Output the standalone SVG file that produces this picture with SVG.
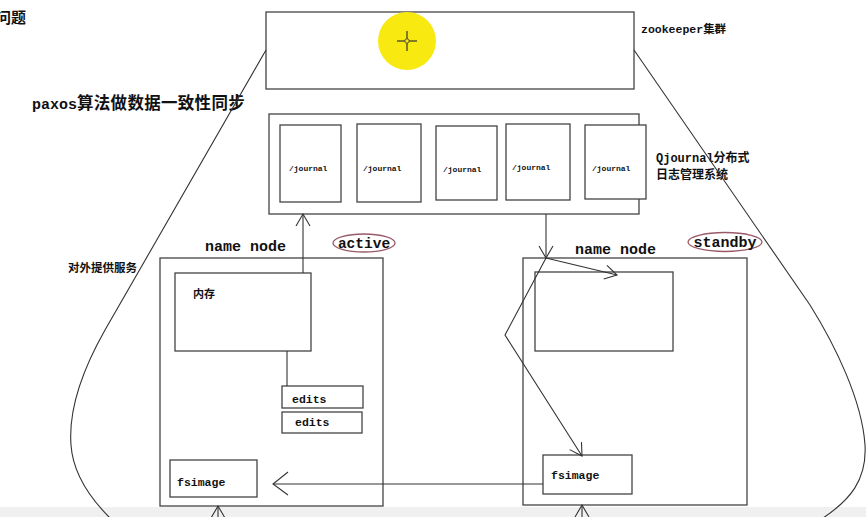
<svg xmlns="http://www.w3.org/2000/svg" width="866" height="517" viewBox="0 0 866 517">
<defs>
<style>
.box{fill:#fff;stroke:#444;stroke-width:1.3}
.frame{fill:none;stroke:#444;stroke-width:1.3}
.ln{fill:none;stroke:#333;stroke-width:1.1}
.cn{font-family:"Noto Sans CJK SC","Liberation Sans",sans-serif;font-weight:bold;fill:#111}
.mo{font-family:"Liberation Mono","Noto Sans CJK SC",monospace;font-weight:bold;fill:#111}
.tag{fill:#fff;stroke:#9a5a68;stroke-width:1.3}
</style>
<marker id="ah" markerUnits="userSpaceOnUse" markerWidth="20" markerHeight="20" viewBox="-14 -10 16 20" refX="0" refY="0" orient="auto">
<path d="M-12,-7 L0,0 L-12,7" fill="none" stroke="#333" stroke-width="1.1"/>
</marker>
<marker id="ahb" markerUnits="userSpaceOnUse" markerWidth="24" markerHeight="30" viewBox="-20 -15 22 30" refX="0" refY="0" orient="auto">
<path d="M-15,-11 L0,0 L-15,12" fill="none" stroke="#333" stroke-width="1.1"/>
</marker>
</defs>
<rect width="866" height="517" fill="#fff"/>
<rect x="0" y="507" width="866" height="10" fill="#f0f0f0"/>

<g id="labels">
<text class="cn" x="-4" y="23" font-size="15">问题</text>
<text class="mo" x="32" y="109" font-size="15">paxos<tspan class="cn" font-size="16.5" letter-spacing="0.3">算法做数据一致性同步</tspan></text>
<text class="cn" x="68" y="272" font-size="11.5">对外提供服务</text>
</g>

<g id="zookeeper">
<rect class="frame" x="266" y="12" width="368" height="77"/>
<circle cx="407" cy="41" r="29" fill="#f8ea10"/>
<line x1="397" y1="41" x2="417" y2="41" stroke="#333" stroke-width="1.2"/>
<line x1="407" y1="31" x2="407" y2="51" stroke="#333" stroke-width="1.2"/>
<circle cx="407" cy="41" r="2.2" fill="#f8ea10" stroke="#333" stroke-width="0.8"/>
<text class="mo" x="641" y="33" font-size="11.5">zookeeper<tspan class="cn">集群</tspan></text>
</g>

<g id="qjournal">
<rect class="frame" x="269" y="114" width="370" height="100"/>
<text class="mo" x="656" y="162" font-size="12">Qjournal<tspan class="cn">分布式</tspan></text>
<text class="cn" x="656" y="179" font-size="12">日志管理系统</text>
</g>
<g id="journal1"><rect class="box" x="280" y="125" width="61" height="77"/><text class="mo" x="289" y="171" font-size="8">/journal</text></g>
<g id="journal2"><rect class="box" x="357" y="124" width="64" height="78"/><text class="mo" x="363" y="171" font-size="8">/journal</text></g>
<g id="journal3"><rect class="box" x="436" y="126" width="61" height="74"/><text class="mo" x="443" y="172" font-size="8">/journal</text></g>
<g id="journal4"><rect class="box" x="506" y="124" width="64" height="76"/><text class="mo" x="512" y="170" font-size="8">/journal</text></g>
<g id="journal5"><rect class="box" x="585" y="125" width="61" height="74"/><text class="mo" x="592" y="171" font-size="8">/journal</text></g>

<g id="active-namenode">
<rect class="frame" x="160" y="258" width="223" height="248"/>
<text class="mo" x="205" y="251" font-size="15">name node</text>
<ellipse class="tag" cx="364" cy="243" rx="31" ry="9"/>
<text class="mo" x="364" y="248" font-size="14.5" text-anchor="middle">active</text>
</g>
<g id="active-memory">
<rect class="box" x="175" y="273" width="136" height="78"/>
<text class="cn" x="193" y="298" font-size="11">内存</text>
</g>
<g id="edits1"><rect class="box" x="282" y="386" width="81" height="22"/><text class="mo" x="292" y="403" font-size="11.5">edits</text></g>
<g id="edits2"><rect class="box" x="282" y="412" width="80" height="21"/><text class="mo" x="295" y="426" font-size="11.5">edits</text></g>
<g id="active-fsimage"><rect class="box" x="170" y="460" width="87" height="37"/><text class="mo" x="177" y="486" font-size="11.5">fsimage</text></g>

<g id="standby-namenode">
<rect class="frame" x="523" y="258" width="224" height="247"/>
<text class="mo" x="575" y="254" font-size="15">name node</text>
<ellipse class="tag" cx="725" cy="242" rx="37" ry="9.5"/>
<text class="mo" x="725" y="247" font-size="15" text-anchor="middle">standby</text>
</g>
<g id="standby-memory"><rect class="frame" x="535" y="272" width="138" height="79"/></g>
<g id="standby-fsimage"><rect class="box" x="543" y="455" width="89" height="39"/><text class="mo" x="551" y="479" font-size="11.5">fsimage</text></g>

<g id="connectors">
<path class="ln" d="M266,50 L105,330 C88,360 68,405 71,445 C73,475 92,500 110,518"/>
<path class="ln" d="M634,50 L810,305 C835,345 862,400 865,445 C867,480 850,500 823,518"/>
<line class="ln" x1="303" y1="273" x2="303" y2="214" marker-end="url(#ah)"/>
<line class="ln" x1="287" y1="351" x2="287" y2="386"/>
<line class="ln" x1="546" y1="214" x2="546" y2="258" marker-end="url(#ah)"/>
<line class="ln" x1="546" y1="258" x2="617" y2="275" marker-end="url(#ah)"/>
<polyline class="ln" points="546,258 505,335 582,456" marker-end="url(#ah)"/>
<line class="ln" x1="543" y1="484" x2="273" y2="484" marker-end="url(#ahb)"/>
<line class="ln" x1="218" y1="517" x2="218" y2="506" marker-end="url(#ah)"/>
<line class="ln" x1="582" y1="517" x2="582" y2="505" marker-end="url(#ah)"/>
</g>
</svg>
